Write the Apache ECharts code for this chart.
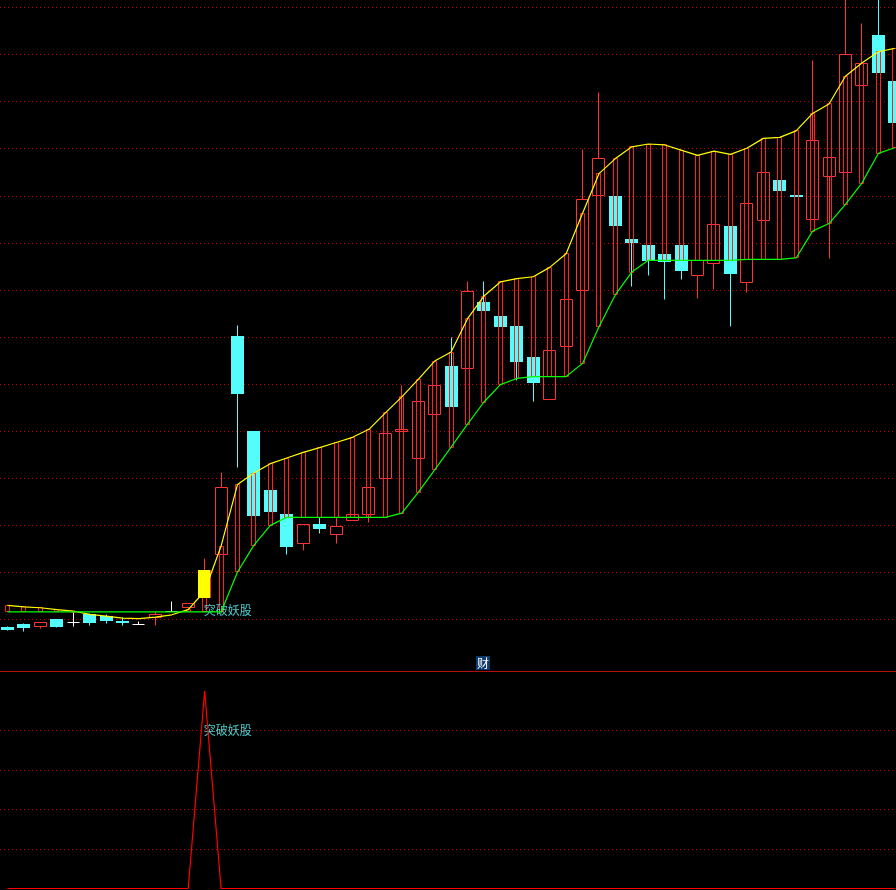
<!DOCTYPE html>
<html>
<head>
<meta charset="utf-8">
<style>
html,body{margin:0;padding:0;background:#000;}
#c{width:896px;height:890px;}
</style>
<script src="https://cdn.jsdelivr.net/npm/echarts@6.0.0/dist/echarts.min.js"></script>
</head>
<body>
<div id="c"></div>
<script>
// ---- data ----
const opens  = [5.84,5.89,5.86,5.99,5.93,6.11,6.07,5.96,5.89,6.04, 6.18,6.25,6.47,7.38,12.02,10.00,8.75,8.24,7.61,8.02, 7.81,8.10,8.22,9.00,9.99,9.42,10.36,11.38,11.34,12.73, 12.44,12.22,11.56,10.67,11.79,12.98,15.00,14.98,14.08,13.95, 13.76,13.94,13.30,13.56,14.35,13.16,14.47,15.33,15.01,14.49, 15.40,15.50,17.34,18.41,17.43];
const closes = [5.78,5.84,5.94,5.86,5.93,5.94,5.98,5.94,5.89,6.11, 6.18,6.35,7.05,8.80,10.81,8.20,8.29,7.56,8.02,7.94, 7.98,8.23,8.80,9.95,10.04,10.64,10.96,10.52,12.97,12.57, 12.23,11.49,11.03,11.72,12.80,14.93,15.79,14.36,14.00,13.62, 13.60,13.42,13.63,14.39,13.36,14.84,15.50,15.12,14.98,16.18, 15.81,18.01,17.81,17.61,16.55];
const highs  = [5.86,5.91,5.94,5.99,6.16,6.13,6.11,6.04,5.96,6.18, 6.39,6.35,7.30,9.12,12.25,10.00,8.75,8.24,8.02,8.17, 8.17,8.23,8.80,9.95,10.98,10.64,10.96,12.00,13.19,13.17, 12.44,12.22,11.56,11.72,12.80,15.99,17.19,14.98,14.08,13.95, 13.76,13.94,13.63,14.39,14.35,14.84,15.50,15.33,15.01,17.88, 15.81,19.26,18.67,19.26,17.43];
const lows   = [5.76,5.75,5.81,5.82,5.86,5.88,5.92,5.88,5.89,5.88, 6.18,6.24,6.47,7.38,9.22,8.20,8.29,7.39,7.47,7.83, 7.61,8.10,8.07,9.00,9.99,9.42,10.36,10.52,11.34,12.57, 12.23,11.07,10.64,10.67,11.79,12.98,15.00,14.36,13.07,13.31, 12.80,13.23,12.82,13.02,12.22,12.95,14.47,15.12,14.98,14.49, 13.67,15.50,17.34,17.61,16.55];
const upperBand = [6.30,6.27,6.25,6.21,6.18,6.11,6.07,6.03,6.02,6.05, 6.10,6.21,6.60,7.56,8.87,9.11,9.31,9.43,9.55,9.65, 9.76,9.87,10.04,10.39,10.73,11.10,11.49,11.68,12.39,12.87, 13.17,13.24,13.28,13.48,13.77,14.63,15.47,15.79,16.04,16.10, 16.08,15.97,15.86,15.95,15.88,16.01,16.22,16.24,16.38,16.75, 16.95,17.54,17.82,18.06,18.13];
const lowerBand = [6.16,6.16,6.16,6.16,6.16,6.16,6.16,6.16,6.16,6.16, 6.16,6.16,6.16,6.16,7.01,7.58,8.00,8.17,8.17,8.17, 8.17,8.17,8.17,8.17,8.26,8.70,9.18,9.66,10.15,10.62, 10.99,11.12,11.16,11.16,11.16,11.44,12.22,12.90,13.38,13.63, 13.63,13.63,13.63,13.63,13.63,13.65,13.65,13.65,13.68,14.25, 14.41,14.82,15.27,15.90,16.02];
const indicator = [0,0,0,0,0,0,0,0,0,0, 0,0,100,0,0,0,0,0,0,0, 0,0,0,0,0,0,0,0,0,0, 0,0,0,0,0,0,0,0,0,0, 0,0,0,0,0,0,0,0,0,0, 0,0,0,0,0];
const signalBars = [12];
const signalLabel = '突破妖股';
const signalPrice = [6.20];
const signalLevel = [80];
const panelLabel = '财';
const priceMin = 5, priceMax = 19.159, priceStep = 1;
const indMin = 0, indMax = 100, indStep = 20;

// ---- styles ----
const RED = '#ff3434', BAND_RED = '#ff2020', CYAN = '#54fcfc', YELLOW = '#ffff00', GREEN = '#00ff00';
const GRID_RED = '#c00000';
const xMin = -0.4565, xMax = xMin + 896 / 16.43;

const candleData = opens.map((o, i) => [i, o, closes[i], lows[i], highs[i]]);
const bandData = upperBand.map((u, i) => [i, u, lowerBand[i]]);
const signalData = signalBars.map(i => [i, opens[i], closes[i]]);

const snap = v => Math.round(v - 0.5) + 0.5;

function renderCandle(params, api) {
  const i = api.value(0), o = api.value(1), c = api.value(2), l = api.value(3), h = api.value(4);
  const po = api.coord([i, o]), pc = api.coord([i, c]), pl = api.coord([i, l]), ph = api.coord([i, h]);
  const cx = Math.floor(po[0]) + 0.5;
  const top = snap(Math.min(po[1], pc[1])), bot = snap(Math.max(po[1], pc[1]));
  const yh = snap(ph[1]), yl = snap(pl[1]);
  const children = [];
  if (c > o) {
    children.push({type:'line', shape:{x1:cx,y1:yh,x2:cx,y2:top}, style:{stroke:RED,lineWidth:1}});
    children.push({type:'line', shape:{x1:cx,y1:bot,x2:cx,y2:yl}, style:{stroke:RED,lineWidth:1}});
    children.push({type:'rect', shape:{x:cx-6,y:top,width:12,height:Math.max(bot-top,1)}, style:{fill:null,stroke:RED,lineWidth:1}});
  } else if (c < o) {
    children.push({type:'line', shape:{x1:cx,y1:yh,x2:cx,y2:yl}, style:{stroke:CYAN,lineWidth:1}});
    children.push({type:'rect', shape:{x:cx-6.5,y:top-0.5,width:13,height:Math.max(bot-top,1)+1}, style:{fill:CYAN}});
  } else {
    children.push({type:'line', shape:{x1:cx,y1:yh,x2:cx,y2:yl}, style:{stroke:'#ffffff',lineWidth:1}});
    children.push({type:'line', shape:{x1:cx-6,y1:top,x2:cx+6,y2:top}, style:{stroke:'#ffffff',lineWidth:1}});
  }
  return {type:'group', children};
}

function renderBand(params, api) {
  const i = api.value(0), u = api.value(1), lo = api.value(2);
  if (!(u > lo)) return {type:'group', children:[]};
  const pu = api.coord([i, u]), pl = api.coord([i, lo]);
  const cx = Math.floor(pu[0]) + 0.5;
  const top = snap(pu[1]), bot = snap(pl[1]);
  return {type:'rect', shape:{x:cx-2,y:top,width:4,height:Math.max(bot-top,1)}, style:{fill:null,stroke:BAND_RED,lineWidth:1}};
}

function renderSignal(params, api) {
  const i = api.value(0), o = api.value(1), c = api.value(2);
  const po = api.coord([i, o]), pc = api.coord([i, c]);
  const cx = Math.floor(po[0]) + 0.5;
  const top = snap(Math.min(po[1], pc[1])), bot = snap(Math.max(po[1], pc[1]));
  return {type:'group', children:[
    {type:'rect', shape:{x:cx-6.5,y:top-0.5,width:12,height:bot-top+1}, style:{fill:YELLOW}},
    {type:'line', shape:{x1:cx+6,y1:top,x2:cx+6,y2:bot}, style:{stroke:RED,lineWidth:1}}
  ]};
}

const chart = echarts.init(document.getElementById('c'), null, {renderer:'canvas'});
const splitStyle = {show:true, showMinLine:false, showMaxLine:false, lineStyle:{color:GRID_RED, width:1, type:[1,3]}};
chart.setOption({
  backgroundColor:'#000000',
  animation:false,
  grid:[
    {left:0, top:0, width:896, height:666.58, show:false},
    {left:0, top:691, width:896, height:197.5, show:false}
  ],
  xAxis:[
    {type:'value', gridIndex:0, min:xMin, max:xMax, show:false},
    {type:'value', gridIndex:1, min:xMin, max:xMax, show:false}
  ],
  yAxis:[
    {type:'value', gridIndex:0, min:priceMin, max:priceMax, interval:priceStep,
     axisLine:{show:false}, axisTick:{show:false}, axisLabel:{show:false}, splitLine:splitStyle},
    {type:'value', gridIndex:1, min:indMin, max:indMax, interval:indStep,
     axisLine:{show:false}, axisTick:{show:false}, axisLabel:{show:false}, splitLine:splitStyle}
  ],
  series:[
    {type:'custom', name:'candles', xAxisIndex:0, yAxisIndex:0, data:candleData, renderItem:renderCandle, encode:{x:0, y:[1,2,3,4]}, silent:true},
    {type:'custom', name:'band', xAxisIndex:0, yAxisIndex:0, data:bandData, renderItem:renderBand, encode:{x:0, y:[1,2]}, silent:true},
    {type:'custom', name:'signal', xAxisIndex:0, yAxisIndex:0, data:signalData, renderItem:renderSignal, encode:{x:0, y:[1,2]}, silent:true},
    {type:'line', name:'upper', xAxisIndex:0, yAxisIndex:0, data:upperBand.map((v,i)=>[i,v]), symbol:'none', lineStyle:{color:YELLOW, width:1.2}, silent:true},
    {type:'line', name:'lower', xAxisIndex:0, yAxisIndex:0, data:lowerBand.map((v,i)=>[i,v]), symbol:'none', lineStyle:{color:GREEN, width:1.2}, silent:true},
    {type:'scatter', name:'signalText', xAxisIndex:0, yAxisIndex:0, data:signalBars.map((b,k)=>[b, signalPrice[k]]), symbolSize:0, silent:true,
     label:{show:true, position:'right', distance:0, offset:[-1,0], formatter:signalLabel, color:'#5cffff', fontSize:12, fontFamily:'"Noto Sans CJK SC"'}},
    {type:'line', name:'indicator', xAxisIndex:1, yAxisIndex:1, data:indicator.map((v,i)=>[i,v]), symbol:'none', clip:false, lineStyle:{color:'#ff0000', width:1.2}, silent:true},
    {type:'scatter', name:'indText', xAxisIndex:1, yAxisIndex:1, data:signalBars.map((b,k)=>[b, signalLevel[k]]), symbolSize:0, silent:true,
     label:{show:true, position:'right', distance:0, offset:[-1,0], formatter:signalLabel, color:'#5cffff', fontSize:12, fontFamily:'"Noto Sans CJK SC"'}}
  ],
  graphic:[
    {type:'line', silent:true, shape:{x1:0,y1:671.5,x2:896,y2:671.5}, style:{stroke:'#b01010', lineWidth:1}},
    {type:'rect', silent:true, shape:{x:476,y:656,width:14,height:14}, style:{fill:'#0d3a6c'}},
    {type:'text', silent:true, x:483, y:663, style:{text:panelLabel, fill:'#ffffff', font:'12px "Noto Sans CJK SC"', align:'center', verticalAlign:'middle', textAlign:'center', textVerticalAlign:'middle'}}
  ]
});
</script>
</body>
</html>
